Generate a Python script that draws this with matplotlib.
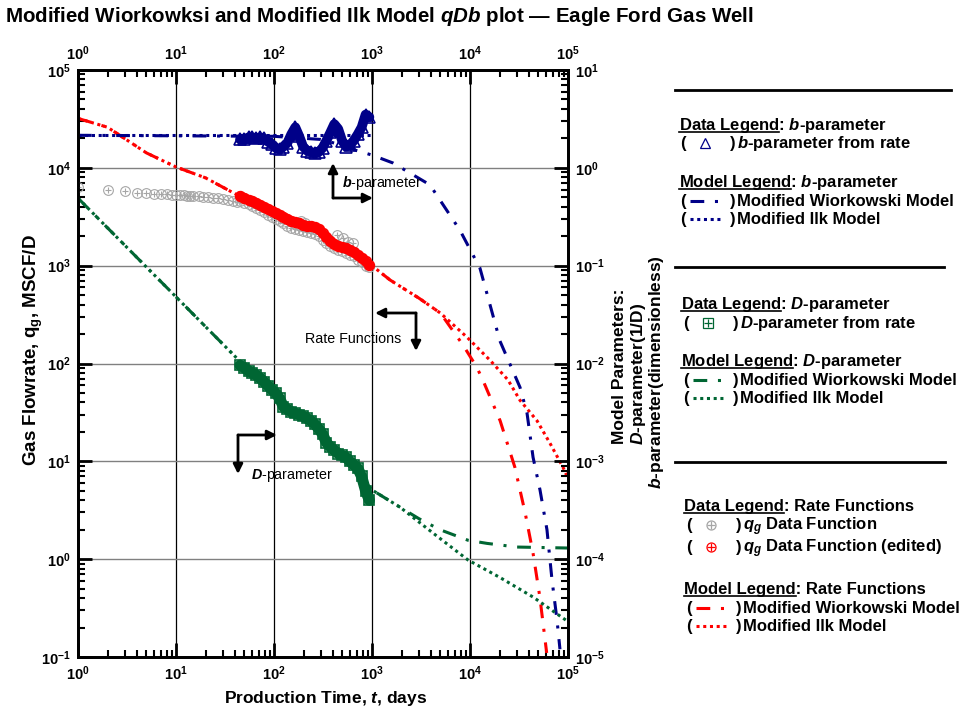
import numpy as np
import matplotlib
matplotlib.use('Agg')
import matplotlib.pyplot as plt
from matplotlib.font_manager import FontProperties

plt.rcParams['font.family'] = ['Liberation Sans', 'DejaVu Sans']
plt.rcParams['font.weight'] = 'bold'
plt.rcParams['mathtext.fontset'] = 'custom'
plt.rcParams['mathtext.rm'] = 'Liberation Sans:bold'
plt.rcParams['mathtext.bf'] = 'Liberation Sans:bold'
plt.rcParams['mathtext.it'] = 'Liberation Sans:italic:bold'
plt.rcParams['mathtext.sf'] = 'Liberation Sans:italic'
plt.rcParams['mathtext.default'] = 'it'

# ---- production data (days) ----
t_early = [1, 2, 3, 4, 5, 6, 7, 8, 9, 10, 11, 12, 13, 14, 15, 17, 19, 21, 24, 27, 30, 34, 38, 42]
q_early = [6370, 5930, 5800, 5520, 5520, 5400, 5400, 5400, 5270, 5270, 5270, 5270, 5150, 5150,
           5150, 5150, 5030, 5030, 4910, 4910, 4800, 4690, 4580, 4470]

t_days = [45, 50, 55, 60, 66, 72, 79, 87, 95, 104, 114, 125, 137, 150, 165, 181, 198, 217,
          238, 261, 286, 313, 343, 376, 412, 452, 495, 543, 595, 652, 715, 784, 860, 940]
q_raw = [4600, 4400, 4250, 4100, 3900, 3700, 3500, 3300, 3150, 3000, 2850, 2700, 2550, 2450,
         2350, 2300, 2250, 2200, 2150, 2100, 2000, 1850, 1700, 1600, 1500, 1450, 1400, 1350,
         1300, 1250, 1150, 1080, 1000, 960]
t_out = [190, 205, 440, 506, 570, 640]
q_out = [2850, 2750, 2060, 1910, 1740, 1700]

q_edit = [5150, 4910, 4690, 4580, 4370, 4170, 3970, 3790, 3620, 3450, 3290, 3140, 3000, 2860,
          2790, 2730, 2600, 2540, 2540, 2480, 2370, 2150, 1960, 1790, 1660, 1590, 1550, 1510,
          1440, 1380, 1280, 1200, 1110, 1010]
b_data = [1.95, 1.95, 2.05, 2.05, 2.0, 2.05, 2.0, 1.85, 1.75, 1.6, 1.55, 1.65, 1.8, 2.2, 2.6,
          2.1, 1.65, 1.5, 1.45, 1.42, 1.45, 1.6, 1.9, 2.3, 2.8, 2.5, 1.9, 1.65, 1.7, 1.9, 2.2,
          2.6, 3.5, 3.3]
D_data = [9.6e-3, 9.0e-3, 8.4e-3, 8.0e-3, 7.6e-3, 7.1e-3, 6.5e-3, 5.9e-3, 5.4e-3, 5.0e-3,
          4.4e-3, 3.6e-3, 3.4e-3, 3.2e-3, 3.1e-3, 3.0e-3, 2.9e-3, 2.75e-3, 2.6e-3, 2.4e-3,
          2.15e-3, 1.9e-3, 1.55e-3, 1.4e-3, 1.3e-3, 1.2e-3, 1.15e-3, 1.1e-3, 1.0e-3, 9.2e-4,
          8.5e-4, 7.0e-4, 5.0e-4, 4.0e-4]

# ---- model curves ----
t_wk_q = [1, 2, 5, 10, 20, 45, 100, 200, 500, 1000, 1530, 3000, 5000, 8500, 11700, 13500,
          20300, 28700, 36600, 44000, 51600, 60600]
q_wk = [3.2e4, 2.6e4, 1.42e4, 1.02e4, 7.9e3, 5.1e3, 3.4e3, 2.6e3, 1.55e3, 1.0e3, 713, 467,
        327, 154, 92, 68, 26, 8.7, 2.95, 1.15, 0.41, 0.11]
t_ilk_q = [1, 2, 5, 10, 20, 45, 100, 200, 500, 1000, 1530, 3000, 5000, 9300, 16000, 24400,
           32400, 48300, 65500, 88900, 100000]
q_ilk = [3.2e4, 2.6e4, 1.42e4, 1.02e4, 7.9e3, 5.1e3, 3.4e3, 2.6e3, 1.55e3, 1.0e3, 713, 467,
         327, 186, 108, 68, 42, 26, 15.3, 8.7, 6.7]

t_wk_b = [1, 100, 300, 500, 700, 1000, 1640, 3900, 7900, 12650, 20200, 32400, 38200, 44000,
          51800, 61000, 68700, 77200, 82800]
b_wk = [2.15, 2.1, 1.95, 1.7, 1.5, 1.35, 1.12, 0.67, 0.23, 0.094, 0.017, 5.7e-3, 3.1e-3,
        1.1e-3, 5.1e-4, 2.0e-4, 6.1e-5, 2.4e-5, 1.2e-5]
t_ilk_b = [1, 1000]
b_ilk = [2.15, 2.15]

t_wk_D = [1, 10, 45, 100, 200, 500, 1000, 1930, 3000, 4940, 9550, 14900, 30200, 100000]
D_wk = [0.49, 0.048, 0.0105, 4.8e-3, 2.7e-3, 1.15e-3, 5.1e-4, 3.4e-4, 2.6e-4, 2.0e-4, 1.56e-4,
        1.45e-4, 1.33e-4, 1.3e-4]
t_ilk_D = [1, 10, 45, 100, 200, 500, 1000, 1930, 4190, 9550, 20200, 44000, 100000]
D_ilk = [0.49, 0.048, 0.0105, 4.8e-3, 2.7e-3, 1.15e-3, 5.1e-4, 3.4e-4, 1.85e-4, 9.8e-5,
         6.5e-5, 4.1e-5, 2.3e-5]

x_exp = [0, 1, 2, 3, 4, 5]
yl_exp = [-1, 0, 1, 2, 3, 4, 5]
yr_exp = [-5, -4, -3, -2, -1, 0, 1]

RED = '#ff0000'
NAVY = '#000088'
GREEN = '#006633'
GRAY = '#a6a6a6'
DASHDOT = (4.5, 3.5, 1, 3.5)
DOT = (1, 1.2)
LFS = 12   # legend font size

fig = plt.figure(figsize=(9.59, 7.13), dpi=100)
ax = fig.add_axes([78 / 959, 1 - 657 / 713, 490 / 959, 587 / 713])
ax.set_xscale('log')
ax.set_yscale('log')
ax.set_xlim(1, 1e5)
ax.set_ylim(1e-1, 1e5)

ax2 = ax.twinx()
ax2.set_yscale('log')
ax2.set_ylim(1e-5, 1e1)


def lab(e):
    return r'$\mathbf{10^{%d}}$' % e


ax.set_xticks([10.0 ** e for e in x_exp])
ax.set_xticklabels([lab(e) for e in x_exp])
ax.set_yticks([10.0 ** e for e in yl_exp])
ax.set_yticklabels([lab(e) for e in yl_exp])
ax2.set_yticks([10.0 ** e for e in yr_exp])
ax2.set_yticklabels([lab(e) for e in yr_exp])

for a in (ax, ax2):
    for s in a.spines.values():
        s.set_linewidth(2)
ax.tick_params(which='major', direction='in', length=10, width=2, top=True, labeltop=True,
               right=False, labelsize=10.5, pad=5)
ax.tick_params(which='minor', direction='in', length=5, width=1.5, top=True, right=False)
ax2.tick_params(which='major', direction='in', length=10, width=2, labelsize=10.5, pad=5)
ax2.tick_params(which='minor', direction='in', length=5, width=1.5)

ax.set_axisbelow(True)
ax.grid(True, which='major', axis='x', color='black', lw=0.9)
ax.grid(True, which='major', axis='y', color='#808080', lw=1.0)

# rate models and data
ax.plot(t_ilk_q, q_ilk, color=RED, lw=2.2, dashes=DOT, zorder=2)
ax.plot(t_wk_q, q_wk, color=RED, lw=2.2, dashes=DASHDOT, zorder=2)
t_gray = t_early + t_days + t_out
q_gray = q_early + q_raw + q_out
ax.plot(t_gray, q_gray, ls='none', marker='o', ms=7, mfc='none', mec=GRAY, mew=0.8, zorder=3)
ax.plot(t_gray, q_gray, ls='none', marker='+', ms=5, mec=GRAY, mew=0.8, zorder=3)
ax.plot(t_days, q_edit, color=RED, lw=7, zorder=4, solid_capstyle='round')
ax.plot(t_days, q_edit, ls='none', marker='o', ms=7, mfc='none', mec=RED, mew=1.2, zorder=4)

# b and D models and data
ax2.plot(t_ilk_b, b_ilk, color=NAVY, lw=2.2, dashes=DOT)
ax2.plot(t_wk_b, b_wk, color=NAVY, lw=2.2, dashes=DASHDOT)
ax2.plot(t_days, b_data, color=NAVY, lw=7, solid_capstyle='round')
ax2.plot(t_days, b_data, ls='none', marker='^', ms=8, mfc='none', mec=NAVY, mew=1.2)
ax2.plot(t_ilk_D, D_ilk, color=GREEN, lw=2.2, dashes=DOT)
ax2.plot(t_wk_D, D_wk, color=GREEN, lw=2.2, dashes=DASHDOT)
ax2.plot(t_days, D_data, color=GREEN, lw=8, solid_capstyle='round')
ax2.plot(t_days, D_data, ls='none', marker='s', ms=7, mfc='none', mec=GREEN, mew=1.2)

# overlay in pixel coordinates for labels, arrows and the legend panel
ov = fig.add_axes([0, 0, 1, 1])
ov.set_xlim(0, 959)
ov.set_ylim(713, 0)
ov.axis('off')

ov.text(5, 16, 'Modified Wiorkowksi and Modified Ilk Model $qDb$ plot \u2014 Eagle Ford Gas Well',
        fontsize=14.8, va='center', ha='left')
ov.text(33, 350, r'Gas Flowrate, $\mathbf{q_g}$, MSCF/D', fontsize=13.5, rotation=90,
        ha='center', va='center')
ov.text(326, 698, 'Production Time, $t$, days', fontsize=12.5, ha='center', va='center')
ov.text(620, 366, 'Model Parameters:', fontsize=12.5, rotation=90, ha='center', va='center')
ov.text(638, 374, '$D$-parameter(1/D)', fontsize=12.5, rotation=90, ha='center', va='center')
ov.text(657, 372, '$b$-parameter(dimensionless)', fontsize=12.5, rotation=90, ha='center',
        va='center')

arrow = dict(arrowstyle='-|>', color='black', lw=2, mutation_scale=14, shrinkA=0, shrinkB=0)
for corner, tips in [((333, 198), [(333, 163), (373, 198)]),
                     ((416, 313), [(375, 313), (416, 351)]),
                     ((238, 435), [(277, 435), (238, 474)])]:
    for tip in tips:
        ov.annotate('', xy=tip, xytext=corner, arrowprops=arrow)
ov.text(342, 183, r'$\mathsf{b}$-parameter', fontsize=10.3, fontweight='normal', va='center')
ov.text(353, 339, 'Rate Functions', fontsize=10.3, fontweight='normal', va='center',
        ha='center')
ov.text(251, 475, r'$\mathsf{D}$-parameter', fontsize=10.3, fontweight='normal', va='center')

for y, x1 in [(90, 951), (267, 944), (462, 945)]:
    ov.plot([675, x1], [y, y], color='black', lw=2)

heads = []


def heading(x, y, tag, rest):
    ov.text(x, y + 5, tag + rest, fontsize=LFS, va='baseline')
    heads.append((x, y + 7, tag))


def row(xp, y, label, marker=None, line=None):
    ov.text(xp, y + 5, '(', fontsize=LFS, va='baseline')
    ov.text(xp + 50, y + 5, ')', fontsize=LFS, va='baseline')
    ov.text(xp + 57, y + 5, label, fontsize=LFS, va='baseline')
    if marker is not None:
        m, c = marker
        ov.plot([xp + 25], [y], ls='none', marker=m, ms=6.5, mfc='none', mec=c, mew=0.9)
        if m in ('o', 's'):
            ov.plot([xp + 25], [y], ls='none', marker='+', ms=5.5, mec=c, mew=0.9)
    if line is not None:
        c, d = line
        ov.plot([xp + 10, xp + 40], [y, y], color=c, lw=2.2, dashes=d)


heading(679, 125, 'Data Legend', ': $b$-parameter')
row(680, 143, '$b$-parameter from rate', marker=('^', NAVY))
heading(679, 182, 'Model Legend', ': $b$-parameter')
row(680, 201, 'Modified Wiorkowski Model', line=(NAVY, DASHDOT))
row(680, 219, 'Modified Ilk Model', line=(NAVY, DOT))

heading(681, 304, 'Data Legend', ': $D$-parameter')
row(683, 323, '$D$-parameter from rate', marker=('s', GREEN))
heading(681, 361, 'Model Legend', ': $D$-parameter')
row(683, 380, 'Modified Wiorkowski Model', line=(GREEN, DASHDOT))
row(683, 398, 'Modified Ilk Model', line=(GREEN, DOT))

heading(684, 506, 'Data Legend', ': Rate Functions')
row(686, 525, '$q_g$ Data Function', marker=('o', GRAY))
row(686, 547, '$q_g$ Data Function (edited)', marker=('o', RED))
heading(684, 589, 'Model Legend', ': Rate Functions')
row(686, 608, 'Modified Wiorkowski Model', line=(RED, DASHDOT))
row(686, 626, 'Modified Ilk Model', line=(RED, DOT))

# underline the legend tags
fig.canvas.draw()
renderer = fig.canvas.get_renderer()
prop = FontProperties(family='Liberation Sans', weight='bold', size=LFS)
for x, yu, tag in heads:
    w, _, _ = renderer.get_text_width_height_descent(tag, prop, ismath=False)
    ov.plot([x, x + w], [yu, yu], color='black', lw=1.2)

fig.savefig('out.png', dpi=100)
